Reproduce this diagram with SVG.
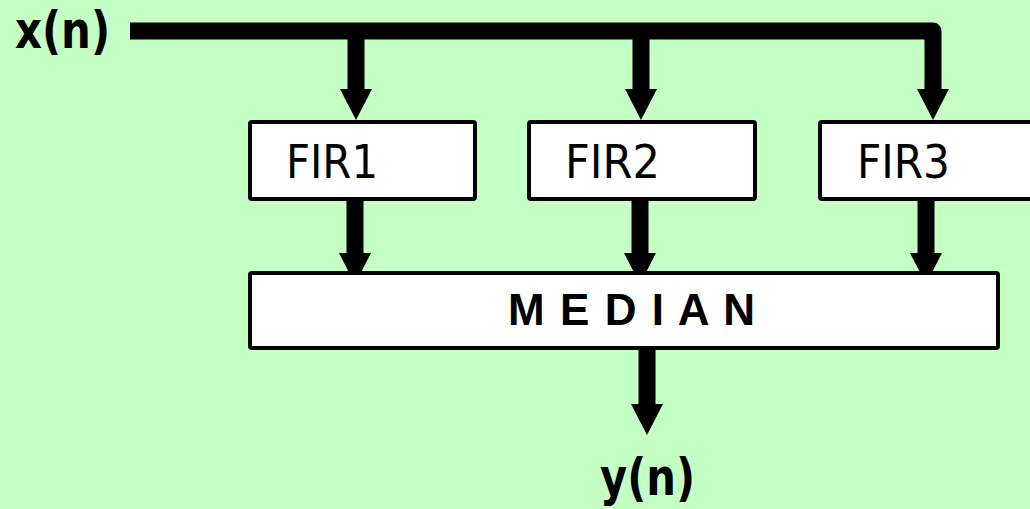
<svg xmlns="http://www.w3.org/2000/svg" width="1030" height="509" viewBox="0 0 1030 509">
<style>
.box{fill:#fff;stroke:#000;stroke-width:4}
.wire{fill:none;stroke:#000;stroke-width:17}
.fir{font-family:"DejaVu Sans Condensed","DejaVu Sans",sans-serif;font-size:47px;fill:#000}
.sig{font-family:"DejaVu Sans","Liberation Sans",sans-serif;font-weight:bold;font-size:52px;fill:#000}
.med{font-family:"Liberation Sans",Arial,sans-serif;font-weight:bold;font-size:44px;fill:#000}
</style>
<defs>
<marker id="ah" markerUnits="userSpaceOnUse" markerWidth="32" markerHeight="32" refX="1" refY="16" orient="auto" viewBox="0 0 31 32">
<path d="M0,0 L31,16 L0,32 z" fill="#000"/>
</marker>
</defs>
<rect width="1030" height="509" fill="#C4FFC4"/>
<g id="connectors">
<path class="wire" d="M130,31 H933 V90" stroke-linejoin="round" marker-end="url(#ah)"/>
<path class="wire" d="M356,31 V90" marker-end="url(#ah)"/>
<path class="wire" d="M641,31 V90" marker-end="url(#ah)"/>
<path class="wire" d="M355,201 V254" marker-end="url(#ah)"/>
<path class="wire" d="M640,201 V254" marker-end="url(#ah)"/>
<path class="wire" d="M926,201 V254" marker-end="url(#ah)"/>
<path class="wire" d="M647,350 V405" stroke-width="18" marker-end="url(#ah)"/>
</g>
<g id="input"><text class="sig" x="15" y="48" textLength="95" lengthAdjust="spacingAndGlyphs">x(n)</text></g>
<g id="fir1"><rect class="box" x="250" y="122" width="225" height="77" rx="2"/><text class="fir" x="286" y="178" textLength="92" lengthAdjust="spacingAndGlyphs">FIR1</text></g>
<g id="fir2"><rect class="box" x="529" y="122" width="226" height="77" rx="2"/><text class="fir" x="565" y="178" textLength="95" lengthAdjust="spacingAndGlyphs">FIR2</text></g>
<g id="fir3"><rect class="box" x="820" y="122" width="250" height="77" rx="2"/><text class="fir" x="857" y="178" textLength="93" lengthAdjust="spacingAndGlyphs">FIR3</text></g>
<g id="median"><rect class="box" x="250" y="273" width="748" height="75" rx="2"/><text class="med" x="508" y="325" textLength="247" lengthAdjust="spacing">M E D I A N</text></g>
<g id="output"><text class="sig" x="600" y="495" textLength="95" lengthAdjust="spacingAndGlyphs">y(n)</text></g>
</svg>
